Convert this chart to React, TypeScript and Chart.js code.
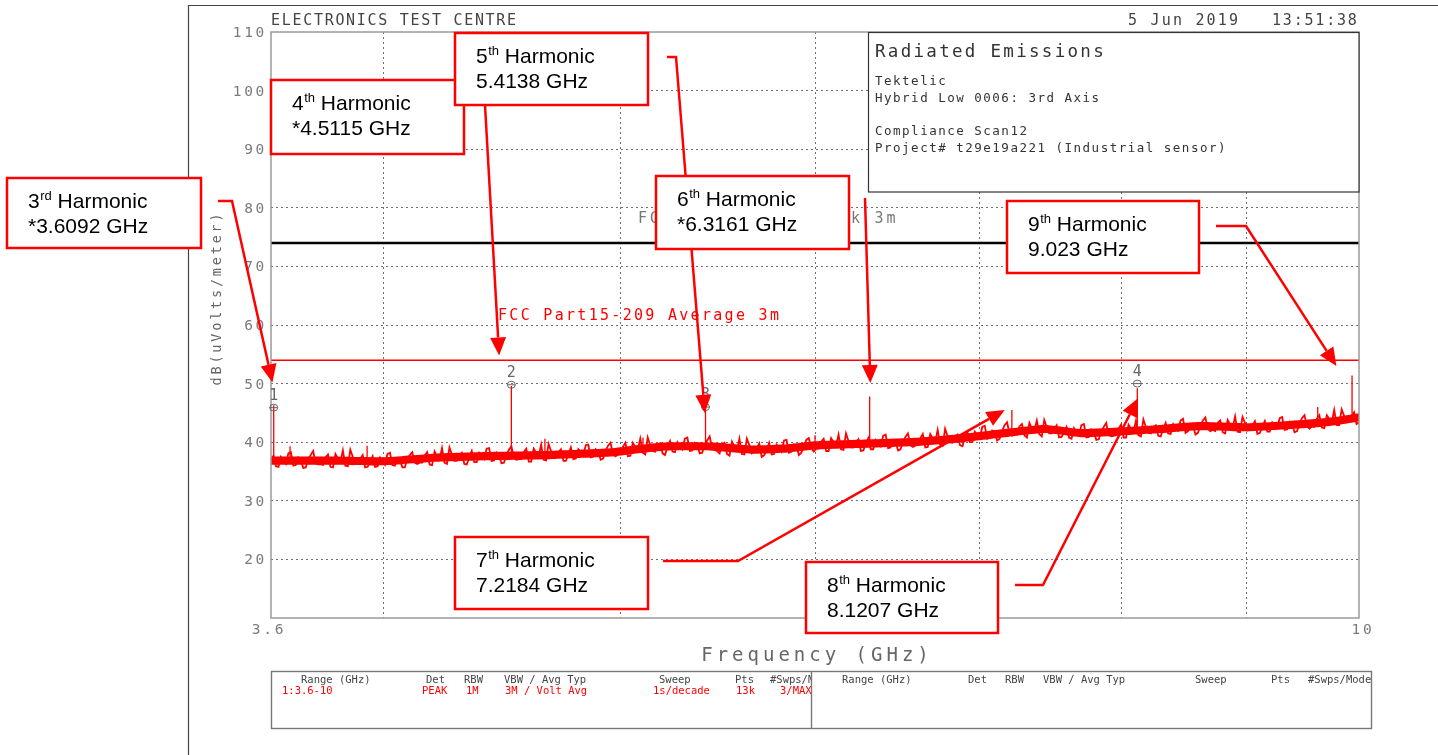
import React, { useEffect, useRef } from "react";
import { Chart, registerables } from "chart.js";

Chart.register(...registerables);

// ---------------- data ----------------
const FREQ_START = 3.6;
const FREQ_STOP = 10;
const X_GRID = [3.6, 4, 5, 6, 7, 8, 9, 10];
const X_LABELS = ["3.6", "10"];
const Y_MIN = 10;
const Y_MAX = 110;
const Y_STEP = 10;

// measured trace (dBuV/m): even sweep points
const TRACE_LEVELS = [
  36.8, 35.9, 37.5, 36.3, 38.3, 36.1, 37.0, 35.7, 37.8, 36.4,
  36.2, 37.4, 35.8, 38.0, 36.6, 36.0, 38.7, 36.3, 37.2, 35.7,
  36.7, 35.8, 37.4, 36.2, 38.2, 36.0, 37.0, 35.7, 37.8, 36.5,
  36.5, 37.7, 36.2, 38.4, 37.0, 36.5, 39.1, 36.8, 37.8, 36.3,
  37.5, 36.6, 38.2, 37.1, 39.0, 36.9, 37.8, 36.5, 38.7, 37.3,
  37.1, 38.3, 36.7, 38.9, 37.6, 37.0, 39.7, 37.3, 38.3, 36.8,
  38.0, 37.1, 38.8, 37.7, 39.6, 37.5, 38.5, 37.2, 39.4, 38.0,
  37.9, 39.2, 37.6, 39.9, 38.7, 38.2, 40.8, 38.5, 39.5, 38.1,
  39.3, 38.4, 40.0, 38.8, 40.8, 38.6, 39.5, 38.2, 40.3, 38.9,
  38.5, 39.6, 38.0, 40.1, 38.6, 38.0, 40.6, 38.1, 39.0, 37.5,
  38.7, 37.9, 39.6, 38.4, 40.4, 38.4, 39.4, 38.2, 40.4, 39.0,
  38.9, 40.1, 38.5, 40.7, 39.4, 38.8, 41.5, 39.1, 40.0, 38.5,
  39.7, 38.8, 40.4, 39.3, 41.3, 39.1, 40.1, 38.8, 40.9, 39.5,
  39.4, 40.7, 39.1, 41.4, 40.1, 39.6, 42.3, 40.0, 41.0, 39.5,
  40.8, 40.0, 41.8, 40.8, 42.8, 40.8, 41.8, 40.6, 42.9, 41.4,
  41.4, 42.7, 41.2, 43.3, 42.0, 41.4, 43.8, 41.5, 42.3, 40.8,
  41.7, 40.8, 42.4, 41.2, 43.1, 40.9, 41.8, 40.5, 42.6, 41.2,
  41.1, 42.3, 40.8, 43.0, 41.7, 41.2, 43.9, 41.6, 42.6, 41.1,
  42.3, 41.5, 43.1, 42.0, 44.0, 41.9, 42.9, 41.6, 43.7, 42.3,
  42.1, 43.3, 41.7, 43.8, 42.4, 41.8, 44.3, 42.0, 42.9, 41.4,
  42.6, 41.8, 43.4, 42.4, 44.3, 42.2, 43.2, 41.9, 44.1, 42.7,
  42.7, 44.0, 42.5, 44.6, 43.4, 42.9, 45.6, 43.4, 44.5, 43.1,
];
// measured trace (dBuV/m): odd sweep points (between the even ones)
const TRACE_LEVELS_ODD = [
  37.7, 35.8, 36.9, 38.1, 36.0, 37.4, 35.6, 37.1, 38.5, 36.2,
  36.1, 37.9, 35.7, 37.2, 38.6, 35.9, 37.5, 36.4, 37.8, 35.8,
  37.6, 35.9, 37.0, 38.0, 36.1, 37.3, 35.7, 37.2, 38.3, 36.3,
  36.5, 38.3, 36.1, 37.6, 39.0, 36.3, 37.9, 36.8, 38.2, 36.2,
  38.5, 36.6, 37.7, 38.9, 36.8, 38.2, 36.4, 37.9, 39.3, 37.0,
  37.1, 38.9, 36.7, 38.2, 39.6, 36.9, 38.5, 37.4, 38.8, 36.8,
  39.1, 37.2, 38.3, 39.5, 37.4, 38.8, 37.0, 38.5, 39.9, 37.6,
  38.1, 39.9, 37.7, 39.2, 40.6, 37.9, 39.5, 38.4, 39.8, 37.8,
  40.2, 38.3, 39.4, 40.6, 38.5, 39.9, 38.1, 39.6, 41.0, 38.7,
  38.1, 39.9, 37.7, 39.2, 40.6, 37.9, 39.5, 38.4, 39.8, 37.8,
  39.9, 38.0, 39.1, 40.3, 38.2, 39.6, 37.8, 39.3, 40.7, 38.4,
  38.9, 40.6, 38.5, 40.0, 41.3, 38.7, 40.2, 39.1, 40.5, 38.6,
  40.7, 38.8, 39.9, 41.1, 39.0, 40.4, 38.6, 40.1, 41.5, 39.2,
  39.6, 41.4, 39.2, 40.7, 42.1, 39.4, 41.0, 39.9, 41.3, 39.3,
  41.7, 40.0, 41.2, 42.6, 40.6, 42.0, 40.3, 41.9, 43.4, 41.1,
  41.3, 43.1, 40.8, 42.3, 43.7, 41.0, 42.6, 41.5, 42.9, 40.9,
  42.6, 40.6, 41.7, 42.9, 40.8, 42.2, 40.4, 41.9, 43.3, 41.0,
  41.2, 43.0, 40.8, 42.3, 43.7, 41.0, 42.6, 41.5, 42.9, 41.0,
  43.3, 41.4, 42.5, 43.7, 41.6, 43.1, 41.3, 42.8, 44.2, 41.9,
  41.9, 43.7, 41.5, 43.0, 44.4, 41.7, 43.3, 42.2, 43.6, 41.6,
  43.6, 41.8, 42.9, 44.1, 42.1, 43.5, 41.7, 43.2, 44.6, 42.3,
  42.6, 44.6, 42.4, 44.0, 45.5, 42.9, 44.5, 43.6, 45.1, 43.4,
];

// solid core of the noise floor (lower / upper edge)
const FLOOR_FREQS = [3.6, 3.8, 4.0, 4.2, 4.45, 4.7, 4.95, 5.2, 5.45, 5.65, 5.85, 6.0, 6.3, 6.6, 6.9, 7.2, 7.45, 7.7, 8.0, 8.3, 8.6, 9.0, 9.3, 9.6, 9.8, 10.0];
const FLOOR_LOW = [36.15, 36.15, 36.05, 36.65, 36.95, 37.15, 37.55, 38.55, 38.55, 38.05, 38.25, 38.75, 39.05, 39.35, 40.05, 40.95, 41.55, 40.85, 41.15, 41.55, 42.05, 41.85, 42.15, 42.55, 42.95, 43.55];
const FLOOR_HIGH = [37.55, 37.55, 37.45, 38.05, 38.35, 38.55, 38.95, 39.95, 39.95, 39.45, 39.65, 40.15, 40.45, 40.75, 41.45, 42.35, 42.95, 42.25, 42.55, 42.95, 43.45, 43.25, 43.55, 43.95, 44.35, 44.95];

// discrete emissions (vertical spikes on the trace)
const SPIKE_FREQS = [3.6092, 3.665, 3.94, 4.5115, 4.656, 5.105, 5.4138, 6.0, 6.3161, 7.2184, 8.1207, 9.62, 9.935];
const SPIKE_BASES = [36.3, 36.4, 36.3, 37.3, 37.7, 38.3, 39.2, 39.2, 39.5, 41.0, 41.3, 42.8, 43.6];
const SPIKE_PEAKS = [46.3, 39.3, 39.4, 49.6, 40.6, 40.8, 45.6, 41.2, 47.8, 45.5, 49.2, 46.0, 51.4];

// analyser markers
const MARKER_IDS = ["1", "2", "3", "4"];
const MARKER_FREQS = [3.6092, 4.5115, 5.4138, 8.1207];
const MARKER_LEVELS = [45.9, 49.8, 46.0, 50.0];

// limit lines
const LIMIT_PEAK = 74;
const LIMIT_AVG = 54;
const LIMIT_PEAK_LABEL = "FCC Part15-209 Peak 3m";
const LIMIT_AVG_LABEL = "FCC Part15-209 Average 3m";

// harmonic call-outs
const HARMONIC_ORDER = ["3", "4", "5", "6", "7", "8", "9"];
const HARMONIC_SUFFIX = ["rd", "th", "th", "th", "th", "th", "th"];
const HARMONIC_FREQ_TEXT = ["*3.6092 GHz", "*4.5115 GHz", "5.4138 GHz", "*6.3161 GHz", "7.2184 GHz", "8.1207 GHz", "9.023 GHz"];
const HARMONIC_TIP_FREQS = [3.605, 4.46, 5.41, 6.32, 7.17, 8.126, 9.79];
const HARMONIC_TIP_LEVELS = [50.2, 54.8, 45.0, 50.1, 45.5, 47.5, 53.0];

// header / info / table texts
const HEADER_LEFT = "ELECTRONICS TEST CENTRE";
const HEADER_DATE = "5 Jun 2019";
const HEADER_TIME = "13:51:38";
const INFO_TITLE = "Radiated Emissions";
const INFO_LINES = ["Tektelic", "Hybrid Low 0006: 3rd Axis", "", "Compliance Scan12", "Project# t29e19a221 (Industrial sensor)"];
const Y_TITLE = "dB(uVolts/meter)";
const X_TITLE = "Frequency (GHz)";
const TABLE_HEADERS = ["Range (GHz)", "Det", "RBW", "VBW / Avg Typ", "Sweep", "Pts", "#Swps/Mode"];
const TABLE_ROW = ["1:3.6-10", "PEAK", "1M", "3M / Volt Avg", "1s/decade", "13k", "3/MAXH"];

// ---------------- layout (pixels) ----------------
const W = 1438;
const H = 755;
const BOXES = [
  [7, 178, 194, 70],
  [271, 80, 193, 74],
  [455, 33, 193, 72],
  [656, 176, 193, 73],
  [455, 537, 193, 72],
  [806, 562, 192, 71],
  [1007, 201, 192, 72],
];
const ARROW_STARTS = [
  [[218, 201], [232, 201]],
  [[485, 105]],
  [[667, 57], [676, 57]],
  [[865, 198]],
  [[663, 561], [738, 561]],
  [[1015, 585], [1043, 585]],
  [[1216, 226], [1246, 226]],
];
const TABLE_LEFT_COLS = [301, 426, 464, 504, 659, 735, 770];
const TABLE_VAL_COLS = [282, 422, 466, 505, 653, 736, 780];
const TABLE_RIGHT_COLS = [842, 968, 1005, 1043, 1195, 1271, 1308];

const MONO = "'DejaVu Sans Mono', monospace";
const RED = "#ff0000";

function sweepFreq(i: number, n: number) {
  return FREQ_START * Math.pow(FREQ_STOP / FREQ_START, i / (n - 1));
}

function txt(ctx: any, s: string, x: number, y: number, font: string, color: string, align: string = "left", spacing = 0) {
  ctx.save();
  ctx.font = font;
  ctx.fillStyle = color;
  ctx.textAlign = align;
  ctx.textBaseline = "alphabetic";
  ctx.letterSpacing = spacing + "px";
  ctx.fillText(s, x, y);
  ctx.restore();
}

const overlay = {
  id: "overlay",
  afterDraw(chart: any) {
    const ctx = chart.ctx;
    const xs = chart.scales.x;
    const ys = chart.scales.y;
    const a = chart.chartArea;

    // plot frame
    ctx.save();
    ctx.strokeStyle = "#9a9a9a";
    ctx.lineWidth = 1.5;
    ctx.strokeRect(a.left, a.top, a.right - a.left, a.bottom - a.top);
    ctx.restore();

    // outer page frame
    ctx.save();
    ctx.strokeStyle = "#444";
    ctx.lineWidth = 1.2;
    ctx.beginPath();
    ctx.moveTo(188.5, H);
    ctx.lineTo(188.5, 5.5);
    ctx.lineTo(W, 5.5);
    ctx.stroke();
    ctx.restore();

    // y tick labels
    ys.ticks.forEach((t: any) => {
      if (t.value <= Y_MIN) return;
      txt(ctx, String(t.value), a.left - 4, ys.getPixelForValue(t.value) + 5, `14.5px ${MONO}`, "#7a7a7a", "right", 2.7);
    });
    // x tick labels
    txt(ctx, X_LABELS[0], xs.getPixelForValue(FREQ_START) - 2, a.bottom + 16, `14.5px ${MONO}`, "#7a7a7a", "center", 2.7);
    txt(ctx, X_LABELS[1], xs.getPixelForValue(FREQ_STOP) + 4, a.bottom + 16, `14.5px ${MONO}`, "#7a7a7a", "center", 2.7);

    // axis titles
    txt(ctx, X_TITLE, (a.left + a.right) / 2 + 2, 661, `19px ${MONO}`, "#666", "center", 4);
    ctx.save();
    ctx.translate(221, 298);
    ctx.rotate(-Math.PI / 2);
    txt(ctx, Y_TITLE, 0, 0, `13.5px ${MONO}`, "#666", "center", 2.8);
    ctx.restore();

    // header
    txt(ctx, HEADER_LEFT, 271, 25, `15px ${MONO}`, "#444", "left", 1.7);
    txt(ctx, HEADER_DATE, 1128, 25, `15px ${MONO}`, "#444", "left", 2.2);
    txt(ctx, HEADER_TIME, 1272, 25, `15px ${MONO}`, "#444", "left", 1.8);

    // limit labels
    txt(ctx, LIMIT_PEAK_LABEL, 638, 223, `15px ${MONO}`, "#777", "left", 2.8);
    txt(ctx, LIMIT_AVG_LABEL, 498, 320, `15px ${MONO}`, RED, "left", 2.3);

    // markers
    MARKER_IDS.forEach((id, i) => {
      const mx = xs.getPixelForValue(MARKER_FREQS[i]);
      const my = ys.getPixelForValue(MARKER_LEVELS[i]);
      ctx.save();
      ctx.strokeStyle = "#666";
      ctx.lineWidth = 1;
      ctx.beginPath();
      ctx.ellipse(mx, my, 4, 3.5, 0, 0, Math.PI * 2);
      ctx.moveTo(mx - 4, my);
      ctx.lineTo(mx + 4, my);
      ctx.stroke();
      ctx.restore();
      txt(ctx, id, mx, my - 8, `15px ${MONO}`, "#666", "center", 0);
    });

    // info box
    ctx.save();
    ctx.fillStyle = "#fff";
    ctx.fillRect(868, 32, 491, 160);
    ctx.strokeStyle = "#333";
    ctx.lineWidth = 1.2;
    ctx.strokeRect(868.5, 32.5, 490.5, 159.5);
    ctx.restore();
    txt(ctx, INFO_TITLE, 875, 57, `17.5px ${MONO}`, "#333", "left", 2.3);
    INFO_LINES.forEach((s, i) => {
      if (s) txt(ctx, s, 875, 85 + i * 16.7, `12.5px ${MONO}`, "#333", "left", 1.5);
    });

    // arrows
    HARMONIC_ORDER.forEach((_, i) => {
      const pts = ARROW_STARTS[i];
      const tx = xs.getPixelForValue(HARMONIC_TIP_FREQS[i]);
      const ty = ys.getPixelForValue(HARMONIC_TIP_LEVELS[i]);
      const last = pts[pts.length - 1];
      const ang = Math.atan2(ty - last[1], tx - last[0]);
      const hl = 18, hw = 8;
      const bx = tx - Math.cos(ang) * hl;
      const by = ty - Math.sin(ang) * hl;
      ctx.save();
      ctx.strokeStyle = RED;
      ctx.fillStyle = RED;
      ctx.lineWidth = 2.5;
      ctx.lineJoin = "miter";
      ctx.beginPath();
      ctx.moveTo(pts[0][0], pts[0][1]);
      for (let k = 1; k < pts.length; k++) ctx.lineTo(pts[k][0], pts[k][1]);
      ctx.lineTo(bx, by);
      ctx.stroke();
      ctx.beginPath();
      ctx.moveTo(tx, ty);
      ctx.lineTo(bx + Math.sin(ang) * hw, by - Math.cos(ang) * hw);
      ctx.lineTo(bx - Math.sin(ang) * hw, by + Math.cos(ang) * hw);
      ctx.closePath();
      ctx.fill();
      ctx.restore();
    });

    // call-out boxes
    HARMONIC_ORDER.forEach((n, i) => {
      const [bx, by, bw, bh] = BOXES[i];
      ctx.save();
      ctx.fillStyle = "#fff";
      ctx.fillRect(bx, by, bw, bh);
      ctx.strokeStyle = RED;
      ctx.lineWidth = 2.5;
      ctx.strokeRect(bx, by, bw, bh);
      const big = "21px 'Liberation Sans', Arial, sans-serif";
      const small = "13px 'Liberation Sans', Arial, sans-serif";
      let x = bx + 21;
      const y1 = by + 30;
      ctx.fillStyle = "#000";
      ctx.font = big;
      ctx.fillText(n, x, y1);
      x += ctx.measureText(n).width + 0.5;
      ctx.font = small;
      ctx.fillText(HARMONIC_SUFFIX[i], x, y1 - 8);
      x += ctx.measureText(HARMONIC_SUFFIX[i]).width;
      ctx.font = big;
      ctx.fillText(" Harmonic", x, y1);
      ctx.fillText(HARMONIC_FREQ_TEXT[i], bx + 21, y1 + 25);
      ctx.restore();
    });

    // settings table
    ctx.save();
    ctx.strokeStyle = "#777";
    ctx.lineWidth = 1.4;
    ctx.strokeRect(271.5, 671.5, 1100, 57);
    ctx.beginPath();
    ctx.moveTo(811.5, 671.5);
    ctx.lineTo(811.5, 728.5);
    ctx.stroke();
    ctx.restore();
    ctx.save();
    ctx.beginPath();
    ctx.rect(272, 672, 539, 56);
    ctx.clip();
    TABLE_HEADERS.forEach((s, i) => txt(ctx, s, TABLE_LEFT_COLS[i], 683, `10.5px ${MONO}`, "#444", "left", 0));
    TABLE_ROW.forEach((s, i) => txt(ctx, s, TABLE_VAL_COLS[i], 694, `10.5px ${MONO}`, RED, "left", 0));
    ctx.restore();
    ctx.save();
    ctx.beginPath();
    ctx.rect(812, 672, 559, 56);
    ctx.clip();
    TABLE_HEADERS.forEach((s, i) => txt(ctx, s, TABLE_RIGHT_COLS[i], 683, `10.5px ${MONO}`, "#444", "left", 0));
    ctx.restore();
  },
};

export default function App() {
  const ref = useRef<HTMLCanvasElement>(null);
  useEffect(() => {
    if (!ref.current) return;
    const n = TRACE_LEVELS.length + TRACE_LEVELS_ODD.length;
    const trace: any[] = [];
    TRACE_LEVELS.forEach((v, i) => {
      trace.push({ x: sweepFreq(2 * i, n), y: v });
      trace.push({ x: sweepFreq(2 * i + 1, n), y: TRACE_LEVELS_ODD[i] });
    });
    const spikes: any[] = [];
    SPIKE_FREQS.forEach((f, i) => {
      spikes.push({ x: f, y: SPIKE_BASES[i] }, { x: f, y: SPIKE_PEAKS[i] }, { x: f, y: null });
    });
    const floorLow = FLOOR_FREQS.map((f, i) => ({ x: f, y: FLOOR_LOW[i] }));
    const floorHigh = FLOOR_FREQS.map((f, i) => ({ x: f, y: FLOOR_HIGH[i] }));
    const gridColor = (edge: number[]) => (c: any) =>
      c.tick && edge.includes(c.tick.value) ? "rgba(0,0,0,0)" : "#707070";
    const chart = new Chart(ref.current, {
      type: "line",
      data: {
        datasets: [
          { label: "peak", data: [{ x: FREQ_START, y: LIMIT_PEAK }, { x: FREQ_STOP, y: LIMIT_PEAK }], borderColor: "#000", borderWidth: 2.5, pointRadius: 0 },
          { label: "avg", data: [{ x: FREQ_START, y: LIMIT_AVG }, { x: FREQ_STOP, y: LIMIT_AVG }], borderColor: RED, borderWidth: 1.5, pointRadius: 0 },
          { label: "trace", data: trace, borderColor: RED, borderWidth: 1.8, pointRadius: 0, tension: 0 },
          { label: "spikes", data: spikes, borderColor: RED, borderWidth: 1.3, pointRadius: 0, spanGaps: false },
          { label: "floor low", data: floorLow, borderColor: "rgba(255,0,0,0)", borderWidth: 0, pointRadius: 0, tension: 0.2 },
          { label: "floor high", data: floorHigh, borderColor: "rgba(255,0,0,0)", borderWidth: 0, pointRadius: 0, tension: 0.2, fill: "-1", backgroundColor: RED },
        ],
      } as any,
      options: {
        animation: false,
        responsive: false,
        maintainAspectRatio: false,
        events: [],
        layout: { padding: { left: 271, top: 32, right: W - 1359, bottom: H - 618 } },
        plugins: { legend: { display: false }, tooltip: { enabled: false } },
        scales: {
          x: {
            type: "logarithmic",
            min: FREQ_START,
            max: FREQ_STOP,
            afterBuildTicks: (s: any) => {
              s.ticks = X_GRID.map((v) => ({ value: v }));
            },
            afterFit: (s: any) => {
              s.height = 0;
            },
            ticks: { display: false },
            grid: { color: gridColor([FREQ_START, FREQ_STOP]), drawTicks: false, lineWidth: 1 },
            border: { display: false, dash: [2, 3] },
          },
          y: {
            min: Y_MIN,
            max: Y_MAX,
            ticks: { display: false, stepSize: Y_STEP },
            afterFit: (s: any) => {
              s.width = 0;
            },
            grid: { color: gridColor([Y_MIN, Y_MAX]), drawTicks: false, lineWidth: 1 },
            border: { display: false, dash: [2, 3] },
          },
        },
      } as any,
      plugins: [overlay],
    });
    return () => chart.destroy();
  }, []);
  return (
    <div style={{ position: "absolute", left: 0, top: 0, width: W, height: H, background: "#fff" }}>
      <canvas ref={ref} width={W} height={H} style={{ display: "block", width: W, height: H }} />
    </div>
  );
}
